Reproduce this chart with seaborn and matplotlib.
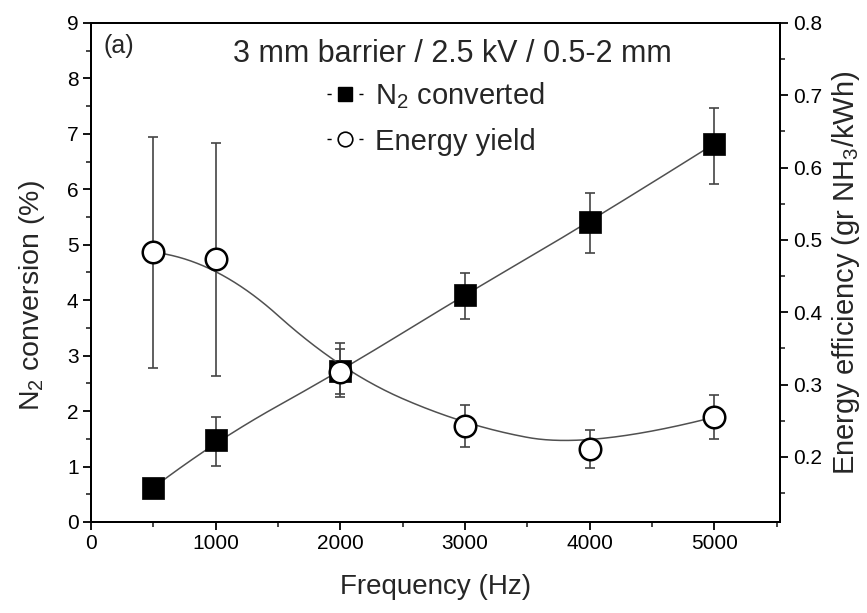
import numpy as np
import pandas as pd
import seaborn as sns
import matplotlib
matplotlib.use("Agg")
import matplotlib.pyplot as plt
from matplotlib.lines import Line2D
from matplotlib.ticker import MultipleLocator

# Measured data
frequency = [500, 1000, 2000, 3000, 4000, 5000]            # Hz
n2_conv = [0.62, 1.47, 2.72, 4.10, 5.41, 6.82]              # %
n2_err_lo = [0.12, 0.46, 0.47, 0.44, 0.55, 0.72]
n2_err_hi = [0.10, 0.43, 0.50, 0.39, 0.53, 0.65]
energy = [0.483, 0.473, 0.318, 0.243, 0.211, 0.255]         # gr NH3/kWh
energy_err = [0.160, 0.161, 0.031, 0.029, 0.026, 0.030]

df = pd.DataFrame({"frequency": frequency, "n2": n2_conv, "energy": energy})

sns.set_style("ticks")
plt.rcParams["font.family"] = ["Liberation Sans", "DejaVu Sans"]
plt.rcParams["mathtext.fontset"] = "custom"
plt.rcParams["mathtext.rm"] = "Liberation Sans"
plt.rcParams["mathtext.it"] = "Liberation Sans:italic"
plt.rcParams["mathtext.default"] = "regular"


def bspline(px, py, k=2, n=400):
    """Clamped B-spline connecting line using the data points as control points."""
    px = np.asarray(px, float)
    py = np.asarray(py, float)
    m = len(px)
    inner = np.linspace(0, 1, m - k + 1)
    knots = np.concatenate([[0] * k, inner, [1] * k])
    t = np.linspace(0, 1, n)
    t[-1] = 1 - 1e-12

    def basis(i, d, tt):
        if d == 0:
            return np.where((knots[i] <= tt) & (tt < knots[i + 1]), 1.0, 0.0)
        out = np.zeros_like(tt)
        d1 = knots[i + d] - knots[i]
        d2 = knots[i + d + 1] - knots[i + 1]
        if d1 > 0:
            out += (tt - knots[i]) / d1 * basis(i, d - 1, tt)
        if d2 > 0:
            out += (knots[i + d + 1] - tt) / d2 * basis(i + 1, d - 1, tt)
        return out

    B = np.array([basis(i, k, t) for i in range(m)])
    return B.T @ px, B.T @ py


fig = plt.figure(figsize=(8.67, 6.13), dpi=100)
ax = fig.add_axes([0.105, 0.1485, 0.795, 0.814])
ax2 = ax.twinx()

line_col = "#505050"
err_col = "#444444"

# N2 conversion (left axis)
cx, cy = bspline(df["frequency"], df["n2"])
sns.lineplot(x=cx, y=cy, ax=ax, color=line_col, lw=1.1, sort=False, zorder=2)
ax.errorbar(df["frequency"], df["n2"], yerr=[n2_err_lo, n2_err_hi], fmt="none",
            ecolor=err_col, elinewidth=1.2, capsize=3.5, capthick=1.2, zorder=3)
sns.scatterplot(data=df, x="frequency", y="n2", ax=ax, marker="s", s=230,
                color="black", edgecolor="black", linewidth=0.5, zorder=4)

# Energy yield (right axis)
ex, ey = bspline(df["frequency"], df["energy"])
sns.lineplot(x=ex, y=ey, ax=ax2, color=line_col, lw=1.1, sort=False, zorder=2)
ax2.errorbar(df["frequency"], df["energy"], yerr=energy_err,
             fmt="none", ecolor=err_col, elinewidth=1.2, capsize=3.5, capthick=1.2, zorder=3)
sns.scatterplot(data=df, x="frequency", y="energy", ax=ax2, marker="o", s=240,
                color="white", edgecolor="black", linewidth=1.8, zorder=4)

# Axes ranges and ticks
ax.set_xlim(0, 5530)
ax.set_ylim(0, 9)
ax2.set_ylim(0.11, 0.80)
ax.xaxis.set_major_locator(MultipleLocator(1000))
ax.xaxis.set_minor_locator(MultipleLocator(500))
ax.yaxis.set_major_locator(MultipleLocator(1))
ax.yaxis.set_minor_locator(MultipleLocator(0.5))
ax2.yaxis.set_minor_locator(MultipleLocator(0.05))
ax2.set_yticks([0.2, 0.3, 0.4, 0.5, 0.6, 0.7, 0.8])

for a in (ax, ax2):
    a.tick_params(which="major", direction="out", length=6, width=1.3,
                  labelsize=15, colors="black", pad=3)
    a.tick_params(which="minor", direction="out", length=3.5, width=1.2)
    for s in a.spines.values():
        s.set_linewidth(1.4)
        s.set_color("black")

ax.set_xlabel("Frequency (Hz)", fontsize=20, labelpad=15)
ax.set_ylabel("N$_2$ conversion (%)", fontsize=20.5)
ax.yaxis.set_label_coords(-0.064, 0.453)
ax2.set_ylabel("Energy efficiency (gr NH$_3$/kWh)", fontsize=21, labelpad=6)
ax2.set_xlabel("")

# Annotations and legend
ax.text(0.018, 0.977, "(a)", transform=ax.transAxes, fontsize=18, va="top", ha="left")
ax.text(0.524, 0.937, "3 mm barrier / 2.5 kV / 0.5-2 mm", transform=ax.transAxes,
        fontsize=22, va="center", ha="center")
handles = [
    Line2D([], [], color="black", lw=1.0, ls=(0, (3, 20)), marker="s", markersize=10,
           markerfacecolor="black", markeredgecolor="black"),
    Line2D([], [], color="black", lw=1.0, ls=(0, (3, 20)), marker="o", markersize=10.5,
           markerfacecolor="white", markeredgecolor="black", markeredgewidth=1.2),
]
ax2.legend(handles, ["N$_2$ converted", "Energy yield"], loc="upper left",
           bbox_to_anchor=(0.321, 0.915), frameon=False, fontsize=21,
           handlelength=1.25, handletextpad=0.4, labelspacing=0.58, borderpad=0)

fig.savefig("out.png", dpi=100)
